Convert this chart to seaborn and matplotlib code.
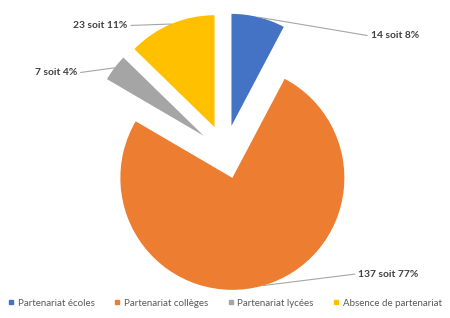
import numpy as np
import matplotlib
matplotlib.use('Agg')
import matplotlib.pyplot as plt
import seaborn as sns

# Données
categories = ['Partenariat écoles', 'Partenariat collèges', 'Partenariat lycées', 'Absence de partenariat']
effectifs = [14, 137, 7, 23]
etiquettes = ['14 soit 8%', '137 soit 77%', '7 soit 4%', '23 soit 11%']
couleurs = ['#4472C4', '#ED7D31', '#A5A5A5', '#FFC000']

sns.set_theme(style='white')
plt.rcParams['font.family'] = ['Lato', 'DejaVu Sans']

fig = plt.figure(figsize=(4.5, 3.18), dpi=100)
ax = fig.add_axes([0, 0, 1, 1])

wedges, _ = ax.pie(effectifs, colors=sns.color_palette(couleurs), startangle=90,
                   counterclock=False, explode=[0.24] * 4, radius=1.0,
                   wedgeprops=dict(linewidth=0))

# position des étiquettes (coordonnées du graphique)
pos_texte = [(1.30, 1.04, 'left'), (1.19, -1.09, 'left'),
             (-1.32, 0.71, 'right'), (-0.87, 1.13, 'right')]

for w, lab, (tx, ty, ha) in zip(wedges, etiquettes, pos_texte):
    ang = np.deg2rad((w.theta1 + w.theta2) / 2)
    cx, cy = w.center
    px, py = cx + w.r * np.cos(ang), cy + w.r * np.sin(ang)
    ex = tx - 0.03 if ha == 'left' else tx + 0.03
    ax.plot([px, ex], [py, ty], color='#A6A6A6', lw=0.8)
    ax.text(tx, ty, lab, ha=ha, va='center', fontsize=7.4,
            fontweight='bold', color='#404040')

ax.set_xlim(-2.009, 2.009)
ax.set_ylim(-1.482, 1.357)
ax.set_aspect('auto')
ax.axis('off')

handles = [plt.Line2D([], [], marker='s', ls='', color=c, markersize=3.5) for c in couleurs]
fig.legend(handles, categories, loc='center', bbox_to_anchor=(0.5, 0.047), ncol=4,
           frameon=False, fontsize=7, handlelength=0.6, handletextpad=0.4,
           columnspacing=2.0, labelcolor='#595959')

fig.savefig('out.png', dpi=100)
